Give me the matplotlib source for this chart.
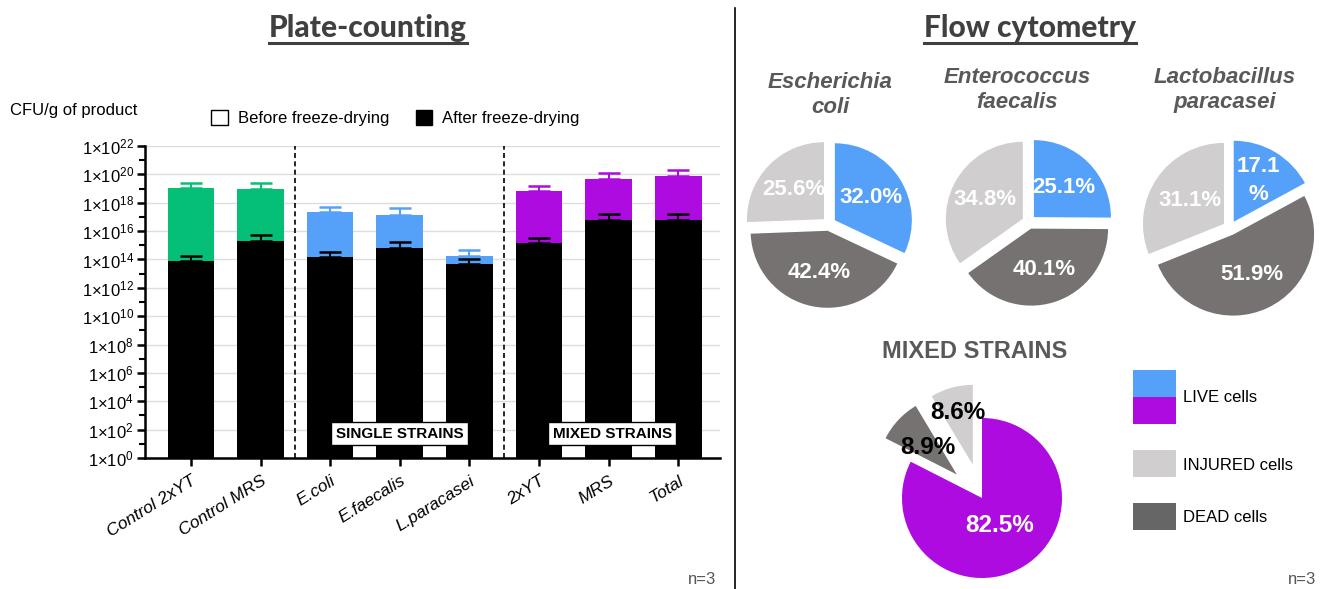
import numpy as np
import matplotlib
matplotlib.use("Agg")
import matplotlib.pyplot as plt
from matplotlib.patches import Patch, Rectangle
from matplotlib.lines import Line2D

plt.rcParams['font.family'] = ['Liberation Sans', 'DejaVu Sans']

# --- plate counting data (CFU/g) ---
cats = ["Control 2xYT", "Control MRS", "E.coli", "E.faecalis", "L.paracasei",
        "2xYT", "MRS", "Total"]
before = [1.05e19, 1.0e19, 2.3e17, 1.4e17, 1.7e14, 6.8e18, 5.0e19, 7.8e19]
before_sd = [1.3e19, 1.35e19, 2.5e17, 2.6e17, 2.8e14, 7.7e18, 8.2e19, 1.17e20]
after = [7.8e13, 2.1e15, 1.4e14, 6.8e14, 5.0e13, 1.4e15, 6.0e16, 6.3e16]
after_sd = [1.1e14, 2.9e15, 2.0e14, 1.1e15, 5.7e13, 1.7e15, 9.8e16, 9.5e16]
groups = ["SINGLE STRAINS", "MIXED STRAINS"]

# --- flow cytometry data (% live, dead, injured) ---
pie_names = ["Escherichia\ncoli", "Enterococcus\nfaecalis", "Lactobacillus\nparacasei"]
ecoli = [32.0, 42.4, 25.6]
efaec = [25.1, 40.1, 34.8]
lpara = [17.1, 51.9, 31.1]
mixed = [82.5, 8.9, 8.6]
cell_states = ["LIVE cells", "INJURED cells", "DEAD cells"]

green = '#06BF77'
blue = '#55A1FA'
purple = '#AD0BE0'
light = '#D0CECF'
dark = '#767271'
bar_cols = [green, green, blue, blue, blue, purple, purple, purple]

W, H = 1326, 589
fig = plt.figure(figsize=(W / 100, H / 100), dpi=100)


def fx(p):
    return p / W


def fy(p):
    return 1 - p / H


# ---------------- bar chart ----------------
ax = fig.add_axes([fx(145), fy(458), (720 - 145) / W, (458 - 146) / H])
ax.set_yscale('log')
x = np.arange(len(cats))
bw = 0.67
ax.bar(x, before, width=bw, color=bar_cols, zorder=2)
for i in range(len(x)):
    ax.errorbar(x[i], before[i], yerr=[[0], [before_sd[i]]], fmt='none',
                ecolor=bar_cols[i], elinewidth=1.5, capsize=8, capthick=1.8, zorder=2.5)
ax.bar(x, after, width=bw, color='black', zorder=3)
ax.errorbar(x, after, yerr=[np.zeros(len(x)), after_sd], fmt='none', ecolor='black',
            elinewidth=1.5, capsize=8, capthick=1.8, zorder=3.5)

ax.set_ylim(1, 1e22)
ax.set_xlim(-0.66, 7.6)
ax.set_yticks([10.0 ** k for k in range(0, 23, 2)])
ax.set_yticklabels(['1×10$\\mathregular{^{%d}}$' % k for k in range(0, 23, 2)])
ax.set_yticks([10.0 ** k for k in range(1, 22, 2)], minor=True)
ax.yaxis.set_minor_formatter(plt.NullFormatter())
ax.set_xticks(x)
ax.set_xticklabels(cats, rotation=32, ha='right', rotation_mode='anchor', style='italic')
ax.tick_params(axis='y', which='major', length=6, width=1.8, labelsize=12, pad=2)
ax.tick_params(axis='y', which='minor', length=4, width=1.5)
ax.tick_params(axis='x', length=6, width=1.8, labelsize=12.5, pad=5)
for s in ['top', 'right']:
    ax.spines[s].set_visible(False)
for s in ['left', 'bottom']:
    ax.spines[s].set_linewidth(1.8)
ax.yaxis.grid(True, which='major', color='#dddddd', lw=1)
ax.set_axisbelow(True)

for xv in [1.5, 4.5]:
    ax.axvline(xv, color='black', ls=(0, (3, 2)), lw=1.2, zorder=5)
for xv, g in zip([3, 6.05], groups):
    ax.text(xv, 10 ** 1.7, g, ha='center', va='center', fontsize=11, fontweight='bold',
            zorder=6, bbox=dict(boxstyle='square,pad=0.3', fc='white', ec='black', lw=1))

fig.text(fx(10), fy(110), 'CFU/g of product', fontsize=12, va='center', ha='left')
fig.legend(handles=[Patch(fc='white', ec='black', lw=1), Patch(fc='black', ec='black')],
           labels=['Before freeze-drying', 'After freeze-drying'], ncol=2,
           loc='center left', bbox_to_anchor=(fx(211), fy(118)), frameon=False,
           fontsize=12, handlelength=1.0, handleheight=1.0, handletextpad=0.6,
           columnspacing=1.6, borderpad=0, borderaxespad=0)


# ---------------- pies ----------------
def draw_pie(cx, cy, r, vals, cols, explode, dists, tcols, fsize, wrap=()):
    pa = fig.add_axes([fx(cx - 1.3 * r), fy(cy + 1.3 * r), 2.6 * r / W, 2.6 * r / H])
    wedges, _ = pa.pie(vals, colors=cols, startangle=90, counterclock=False,
                       explode=explode, wedgeprops=dict(lw=0))
    for i, (w, v) in enumerate(zip(wedges, vals)):
        mid = np.deg2rad((w.theta1 + w.theta2) / 2)
        lab = f'{v:.1f}%'
        if i in wrap:
            lab = lab.replace('%', '\n%')
        pa.text(dists[i] * np.cos(mid), dists[i] * np.sin(mid), lab, ha='center',
                va='center', color=tcols[i], fontsize=fsize, fontweight='bold',
                linespacing=1.4)
    pa.set_xlim(-1.3, 1.3)
    pa.set_ylim(-1.3, 1.3)
    pa.set_aspect('equal')
    pa.axis('off')


cols3 = [blue, dark, light]
ex = [0.09, 0.09, 0.09]
draw_pie(829, 224, 77, ecoli, cols3, ex, [0.64] * 3, ['white'] * 3, 16)
draw_pie(1029, 222, 77, efaec, cols3, ex, [0.64] * 3, ['white'] * 3, 16)
draw_pie(1230, 228, 81, lpara, cols3, ex, [0.68, 0.64, 0.6], ['white'] * 3, 16, wrap=(0,))
draw_pie(982, 498, 80, mixed, [purple, dark, light], [0, 0.43, 0.43], [0.41, 0.92, 1.11],
         ['white', 'black', 'black'], 17.5)

for (px, py), nm in zip([(830, 95), (1017, 90), (1225, 90)], pie_names):
    fig.text(fx(px), fy(py), nm, ha='center', va='center', fontsize=16, fontweight='bold',
             style='italic', color='#595959')
fig.text(fx(975), fy(352), 'MIXED STRAINS', ha='center', va='center', fontsize=17,
         fontweight='bold', color='#595959')

# legend on the right
leg_boxes = [[(370, blue), (397, purple)], [(450, light)], [(503, '#666666')]]
leg_ty = [398, 465, 517]
for boxes, ty, lab in zip(leg_boxes, leg_ty, cell_states):
    for top, c in boxes:
        h = 27 if len(boxes) == 1 else 26.5
        fig.add_artist(Rectangle((fx(1133), fy(top + h)), 43 / W, h / H, fc=c, ec='none',
                                 transform=fig.transFigure))
    fig.text(fx(1183), fy(ty), lab, fontsize=12, va='center', ha='left')

# titles with underline
titles = []
for px, t in [(368, 'Plate-counting'), (1030, 'Flow cytometry')]:
    titles.append(fig.text(fx(px), fy(28), t, ha='center', va='center', fontsize=21.5,
                           fontweight='black', family=['Lato', 'Liberation Sans'],
                           color='#404040'))
fig.canvas.draw()
rend = fig.canvas.get_renderer()
for t in titles:
    bb = t.get_window_extent(rend)
    fig.add_artist(Line2D([bb.x0 / W, bb.x1 / W], [bb.y0 / H - 1 / H] * 2, color='#404040',
                          lw=2.2, transform=fig.transFigure))

fig.add_artist(Line2D([fx(735)] * 2, [fy(8), 0], color='black', lw=1.2,
                      transform=fig.transFigure))
fig.text(fx(716), fy(580), 'n=3', ha='right', va='center', fontsize=12, color='#555555')
fig.text(fx(1316), fy(580), 'n=3', ha='right', va='center', fontsize=12, color='#555555')

fig.savefig('out.png', dpi=100)
